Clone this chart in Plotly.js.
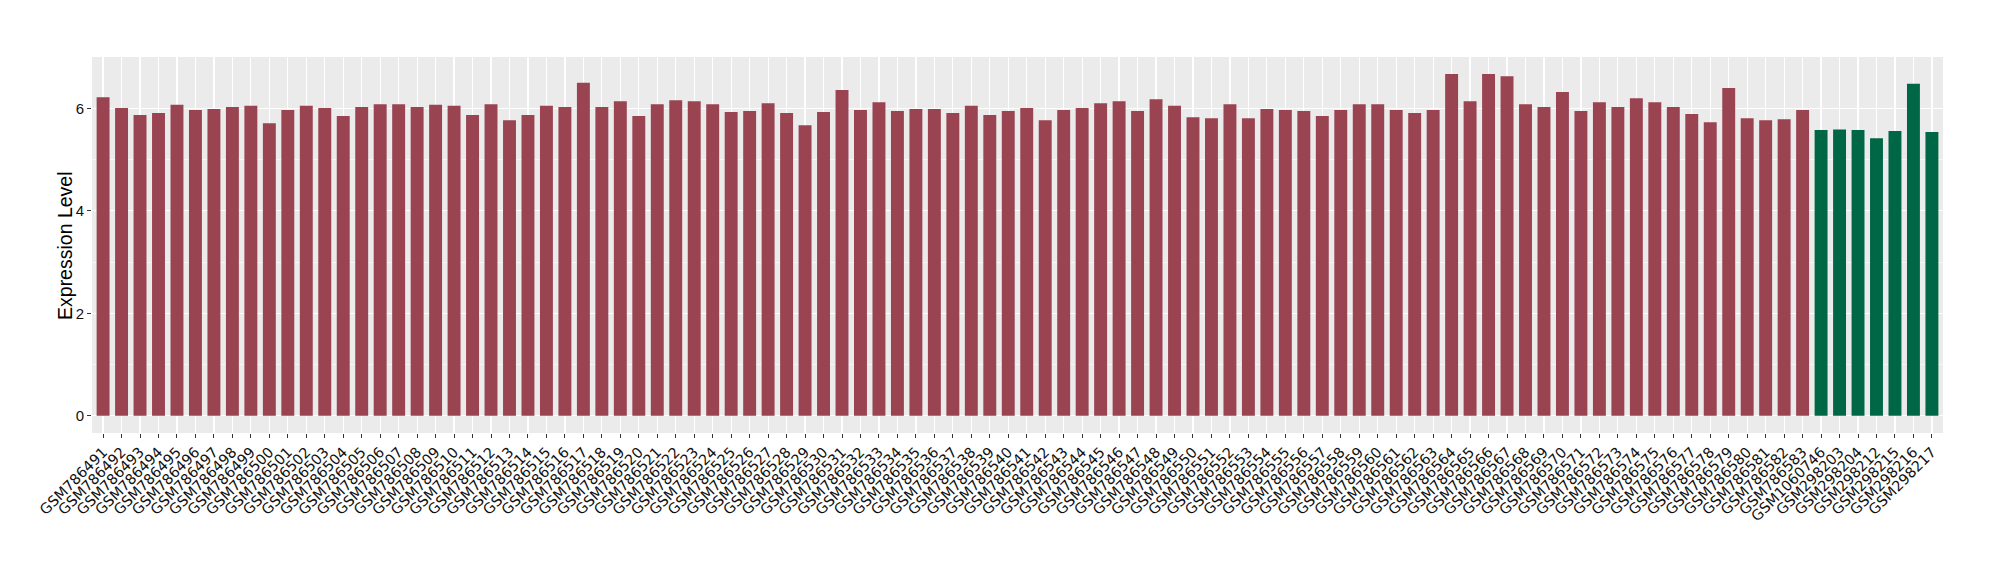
<!DOCTYPE html>
<html>
<head>
<meta charset="utf-8">
<script src="https://cdn.plot.ly/plotly-3.0.1.min.js"></script>
<style>html,body{margin:0;padding:0;background:#fff;}#chart{width:2000px;height:580px;}</style>
</head>
<body>
<div id="chart"></div>
<script>
// Sample names (group 1: GSM786491..GSM786583; group 2: the seven others)
const groupASamples = [];
for (let n = 786491; n <= 786583; n++) groupASamples.push('GSM' + n);
const groupBSamples = ['GSM1060746','GSM298203','GSM298204','GSM298212','GSM298215','GSM298216','GSM298217'];

const groupAValues = [
  6.22, 6.01, 5.87, 5.91, 6.07, 5.97, 5.99, 6.03, 6.05, 5.71,
  5.97, 6.05, 6.01, 5.85, 6.03, 6.08, 6.08, 6.03, 6.07, 6.05,
  5.87, 6.08, 5.77, 5.87, 6.05, 6.03, 6.50, 6.03, 6.14, 5.85,
  6.08, 6.16, 6.14, 6.08, 5.93, 5.95, 6.10, 5.91, 5.67, 5.93,
  6.36, 5.97, 6.12, 5.95, 5.99, 5.99, 5.91, 6.05, 5.87, 5.95,
  6.01, 5.77, 5.97, 6.01, 6.10, 6.14, 5.95, 6.18, 6.05, 5.83,
  5.81, 6.08, 5.81, 5.99, 5.97, 5.95, 5.85, 5.97, 6.08, 6.08,
  5.97, 5.91, 5.97, 6.67, 6.14, 6.67, 6.63, 6.08, 6.03, 6.32,
  5.95, 6.12, 6.03, 6.20, 6.12, 6.03, 5.89, 5.73, 6.40, 5.81,
  5.77, 5.79, 5.97
];
const groupBValues = [5.58, 5.59, 5.58, 5.42, 5.56, 6.48, 5.54];

const yTickValues = [0, 2, 4, 6];
const yTickLabels = ['0', '2', '4', '6'];
const yTitle = 'Expression Level';

const allSamples = groupASamples.concat(groupBSamples);

const traces = [
  {type: 'bar', x: groupASamples, y: groupAValues, marker: {color: '#9A4351'}, width: 0.7, hoverinfo: 'x+y'},
  {type: 'bar', x: groupBSamples, y: groupBValues, marker: {color: '#006746'}, width: 0.7, hoverinfo: 'x+y'}
];

const layout = {
  width: 2000, height: 580,
  paper_bgcolor: '#ffffff',
  plot_bgcolor: '#EBEBEB',
  showlegend: false,
  barmode: 'overlay',
  margin: {l: 92, r: 57, t: 57, b: 147, pad: 0},
  font: {family: 'DejaVu Sans', color: '#111'},
  xaxis: {
    type: 'category',
    categoryorder: 'array', categoryarray: allSamples,
    range: [-0.6, allSamples.length - 0.4],
    tickangle: -45,
    tickfont: {family: 'DejaVu Sans', size: 14.5, color: '#111'},
    ticks: 'outside', ticklen: 4, tickwidth: 1, tickcolor: '#333',
    showgrid: true, gridcolor: '#ffffff', gridwidth: 1.2,
    showline: false, zeroline: false, automargin: false
  },
  yaxis: {
    range: [-0.336, 7.004],
    tickmode: 'array', tickvals: yTickValues, ticktext: yTickLabels,
    tickfont: {family: 'Liberation Sans', size: 15, color: '#111'},
    ticks: 'outside', ticklen: 4, tickwidth: 1, tickcolor: '#333',
    showgrid: true, gridcolor: '#ffffff', gridwidth: 1.2,
    minor: {dtick: 1, tick0: 0, showgrid: true, gridcolor: '#ffffff', gridwidth: 0.6},
    zeroline: false, showline: false, automargin: false
  },
  annotations: [{
    text: yTitle, textangle: -90,
    xref: 'paper', yref: 'paper', x: -0.0146, y: 0.5,
    xanchor: 'center', yanchor: 'middle', showarrow: false,
    font: {family: 'Liberation Sans', size: 19.5, color: '#000'}
  }]
};

Plotly.newPlot('chart', traces, layout, {displayModeBar: false, staticPlot: true});
</script>
</body>
</html>
